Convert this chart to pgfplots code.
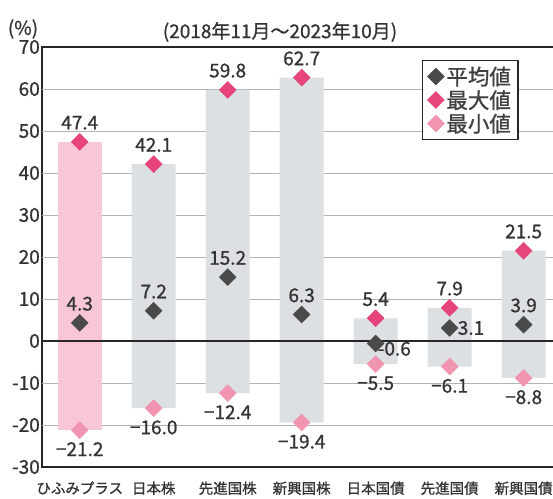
\documentclass[border=0pt]{standalone}
\usepackage{fontspec}
\setmainfont{Noto Sans CJK JP}[FakeBold=0.9]
\usepackage{pgfplots}
\usepackage{pgfplotstable}
\pgfplotsset{compat=1.18}
\definecolor{avgc}{HTML}{4A4A4A}
\definecolor{maxc}{HTML}{E6447A}
\definecolor{minc}{HTML}{F094B0}
\definecolor{pinkbar}{HTML}{F8C6D4}
\definecolor{graybar}{HTML}{DDE0E3}
\definecolor{gridc}{HTML}{B4B4B4}
\pgfplotstableread{
x max min
0 47.4 -21.2
}\pinkdata
\pgfplotstableread{
x max min
1 42.1 -16.0
2 59.8 -12.4
3 62.7 -19.4
4 5.4 -5.5
5 7.9 -6.1
6 21.5 -8.8
}\graydata
\pgfplotstableread{
x y lab
0 4.3 4.3
1 7.2 7.2
2 15.2 15.2
3 6.3 6.3
6 3.9 3.9
}\avgA
\pgfplotstableread{
x y lab
5 3.1 3.1
}\avgB
\pgfplotstableread{
x y lab
4 -0.6 -0.6
}\avgC
\pgfplotstableread{
x y lab
0 47.4 47.4
1 42.1 42.1
2 59.8 59.8
3 62.7 62.7
4 5.4 5.4
5 7.9 7.9
6 21.5 21.5
}\maxdata
\pgfplotstableread{
x y lab
0 -21.2 −21.2
1 -16.0 −16.0
2 -12.4 −12.4
3 -19.4 −19.4
4 -5.5 −5.5
5 -6.1 −6.1
6 -8.8 −8.8
}\mindata
\pgfplotsset{
  labelled/.style={nodes near coords={\pgfplotspointmeta}, point meta=explicit symbolic,
    every node near coord/.append style={font=\fontsize{19}{19}\selectfont, text=black!80, inner sep=1pt}},
  dmark/.style={only marks, mark=square*, mark size=6pt, mark options={rotate=45, fill=#1, draw=#1}},
}
\begin{document}
\begin{tikzpicture}
\begin{axis}[
  name=ax,
  scale only axis,
  width=526pt, height=420pt,
  xmin=-0.51, xmax=6.6,
  ymin=-30, ymax=70,
  ytick={-30,-20,...,70},
  xtick={0,...,6},
  xticklabels={ひふみプラス,日本株,先進国株,新興国株,日本国債,先進国債,新興国債},
  major tick length=0pt,
  /pgf/number format/assume math mode=true,
  yticklabel style={font=\fontsize{19}{19}\selectfont, text=black!80, inner xsep=2pt},
  xticklabel style={font=\fontsize{14.5}{14.5}\selectfont, text=black!80, yshift=-11pt},
  axis line style={black!85, line width=1.5pt},
  legend style={at={(0.722,0.969)}, anchor=north west, draw=black!85, line width=1.3pt,
    font=\fontsize{21.5}{21.5}\selectfont, text=black!75, inner xsep=5pt, inner ysep=4pt, row sep=0pt,
    cells={anchor=west}},
  legend image post style={line width=0.4pt},
]
% grid lines
\pgfplotsinvokeforeach{-20,-10,10,20,30,40,50,60}{
  \addplot[forget plot, draw=gridc, line width=0.9pt, mark=none] coordinates {(-0.51,#1) (6.6,#1)};
}
% bars
\addplot[ybar, bar width=44pt, bar shift=0pt, fill=pinkbar, draw=none, forget plot] table[x=x,y=max] {\pinkdata};
\addplot[ybar, bar width=44pt, bar shift=0pt, fill=pinkbar, draw=none, forget plot] table[x=x,y=min] {\pinkdata};
\addplot[ybar, bar width=44pt, bar shift=0pt, fill=graybar, draw=none, forget plot] table[x=x,y=max] {\graydata};
\addplot[ybar, bar width=44pt, bar shift=0pt, fill=graybar, draw=none, forget plot] table[x=x,y=min] {\graydata};
% zero line
\addplot[black!85, line width=1.4pt, forget plot] coordinates {(-0.51,0) (6.6,0)};
% markers
\addplot[dmark=avgc, labelled, every node near coord/.append style={anchor=south, yshift=11pt}]
  table[x=x,y=y,meta=lab] {\avgA};
\addlegendentry{平均値}
\addplot[dmark=maxc, labelled, every node near coord/.append style={anchor=south, yshift=11pt}]
  table[x=x,y=y,meta=lab] {\maxdata};
\addlegendentry{最大値}
\addplot[dmark=minc, labelled, every node near coord/.append style={anchor=north, yshift=-11pt}]
  table[x=x,y=y,meta=lab] {\mindata};
\addlegendentry{最小値}
\addplot[dmark=avgc, forget plot, labelled, every node near coord/.append style={anchor=west, xshift=7pt}]
  table[x=x,y=y,meta=lab] {\avgB};
\addplot[dmark=avgc, forget plot, labelled, every node near coord/.append style={anchor=north west, xshift=1pt, yshift=3pt}]
  table[x=x,y=y,meta=lab] {\avgC};
\end{axis}
\node[font=\fontsize{19}{19}\selectfont, text=black!80] at ([xshift=238pt,yshift=15pt]ax.north west) {(2018年11月～2023年10月)};
\node[font=\fontsize{19}{19}\selectfont, text=black!80] at ([xshift=-19pt,yshift=18pt]ax.north west) {(\%)};
\pgfresetboundingbox
\path[use as bounding box] ([xshift=-42pt,yshift=-31pt]ax.south west) rectangle ([xshift=511pt,yshift=47pt]ax.north west);
\end{tikzpicture}
\end{document}
